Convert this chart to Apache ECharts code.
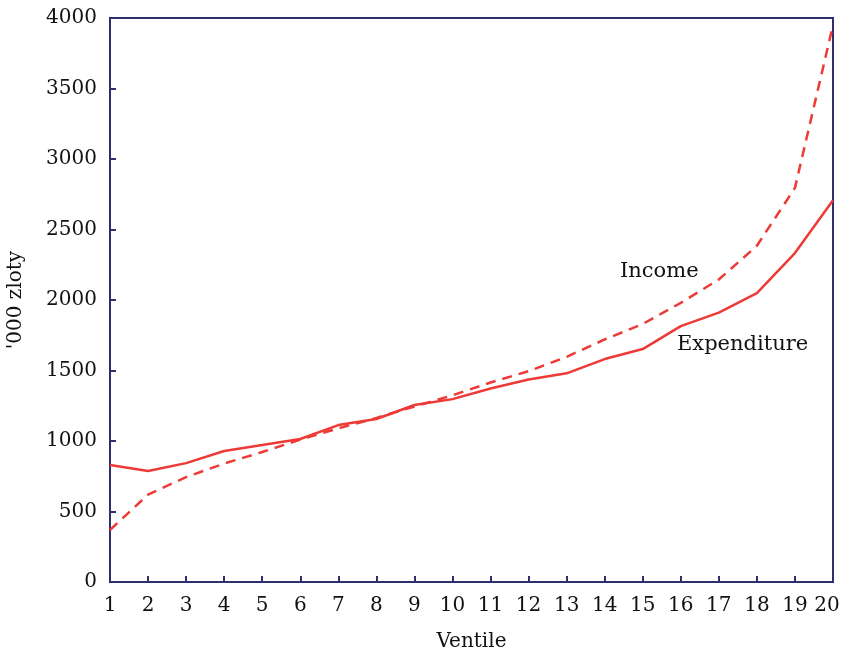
<!DOCTYPE html>
<html><head><meta charset="utf-8">
<script src="https://cdn.jsdelivr.net/npm/echarts@6/dist/echarts.min.js"></script>
<style>html,body{margin:0;padding:0;background:#fff}#c{width:843px;height:649px}</style>
</head><body><div id="c"></div>
<script>
var ventiles = ['1','2','3','4','5','6','7','8','9','10','11','12','13','14','15','16','17','18','19','20'];
var expenditure = [830, 787, 843, 929, 971, 1014, 1113, 1156, 1255, 1297, 1372, 1436, 1480, 1581, 1652, 1815, 1910, 2049, 2333, 2708];
var income = [369, 620, 744, 840, 922, 1010, 1090, 1163, 1245, 1324, 1415, 1495, 1597, 1720, 1830, 1980, 2145, 2385, 2795, 3950];
var yTicks = {min: 0, max: 4000, interval: 500};

var axisColor = '#2e2f6e';
var lineColor = '#ee3a36';
var font = 'DejaVu Serif';
var textColor = '#111';

var chart = echarts.init(document.getElementById('c'), null, {renderer: 'canvas'});
chart.setOption({
  animation: false,
  backgroundColor: '#fff',
  grid: {left: 110, right: 10, top: 18, bottom: 67, show: true, borderColor: axisColor, borderWidth: 2,
         containLabel: false, outerBoundsMode: 'none'},
  xAxis: {
    type: 'category', data: ventiles, boundaryGap: false,
    name: 'Ventile', nameLocation: 'middle', nameGap: 50,
    nameTextStyle: {fontFamily: font, fontSize: 20, color: textColor},
    axisLine: {lineStyle: {color: axisColor, width: 2}},
    axisTick: {inside: true, length: 6, interval: 0, lineStyle: {color: axisColor, width: 2}},
    axisLabel: {fontFamily: font, fontSize: 20, color: textColor, margin: 14, interval: 0, hideOverlap: false,
                formatter: function (v, i) { return i === ventiles.length - 1 ? '{last|' + v + '}' : v; },
                rich: {last: {fontFamily: font, fontSize: 20, color: textColor, padding: [0, 12, 0, 0]}}},
    splitLine: {show: false}
  },
  yAxis: {
    type: 'value', min: yTicks.min, max: yTicks.max, interval: yTicks.interval,
    name: "'000 zloty", nameLocation: 'middle', nameGap: 84, nameRotate: 90,
    nameTextStyle: {fontFamily: font, fontSize: 20, color: textColor},
    axisLine: {show: true, lineStyle: {color: axisColor, width: 2}},
    axisTick: {show: true, inside: true, length: 6, lineStyle: {color: axisColor, width: 2}},
    axisLabel: {fontFamily: font, fontSize: 20, color: textColor, margin: 13,
                formatter: function (v) { return String(v); }},
    splitLine: {show: false}
  },
  series: [
    {name: 'Expenditure', type: 'line', data: expenditure, symbol: 'none',
     lineStyle: {color: lineColor, width: 2.5, type: 'solid'}},
    {name: 'Income', type: 'line', data: income, symbol: 'none',
     lineStyle: {color: lineColor, width: 2.5, type: [10, 7]}}
  ],
  graphic: [
    {type: 'text', left: 620, top: 261, style: {text: 'Income', fontFamily: font, fontSize: 21, fill: textColor}},
    {type: 'text', left: 677, top: 334, style: {text: 'Expenditure', fontFamily: font, fontSize: 21, fill: textColor}}
  ]
});
</script></body></html>
